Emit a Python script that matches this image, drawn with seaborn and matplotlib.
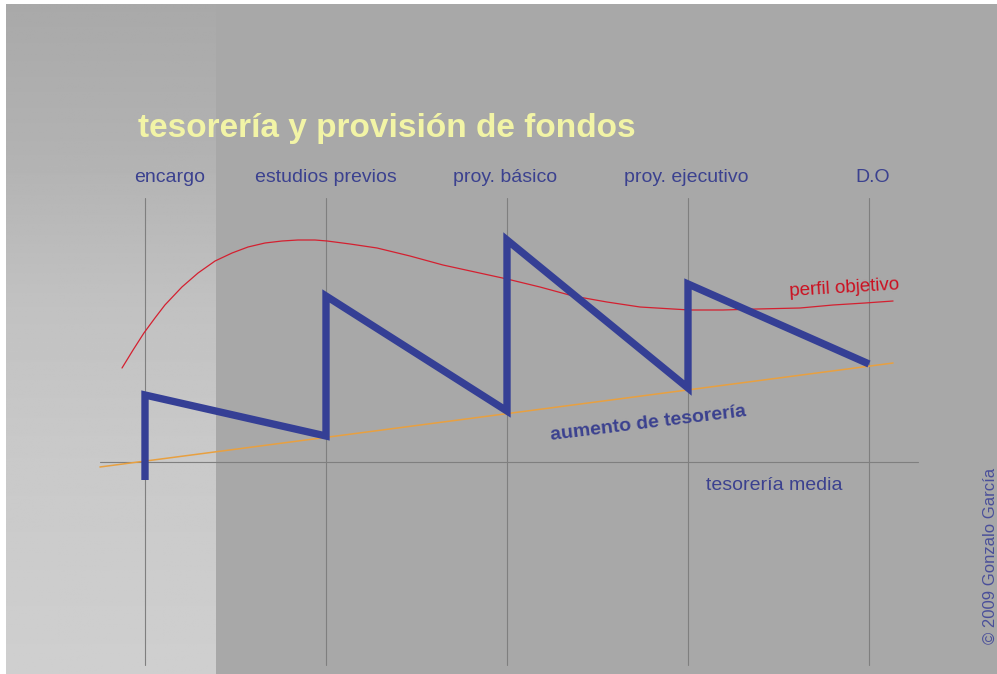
import numpy as np
import pandas as pd
import matplotlib
matplotlib.use("Agg")
import matplotlib.pyplot as plt
import seaborn as sns

# ---- data ----
stages = ["encargo", "estudios previos", "proy. básico", "proy. ejecutivo", "D.O"]
stage_pos = [0, 1, 2, 3, 4]

# treasury sawtooth (stage position, level)
saw_x = [0, 0, 1, 1, 2, 2, 3, 3, 4]
saw_y = [-18, 67, 26, 166, 51, 222, 74, 178, 98]

# target profile ("perfil objetivo")
prof_x = [-0.127, -0.066, -0.006, 0.055, 0.110, 0.204, 0.293, 0.387, 0.481, 0.569,
          0.663, 0.757, 0.845, 0.939, 1.006, 1.133, 1.282, 1.464, 1.646, 1.823,
          2.000, 2.182, 2.365, 2.552, 2.735, 2.917, 3.011, 3.193, 3.381, 3.619,
          3.801, 3.978, 4.133]
prof_y = [94, 112, 129, 144, 157, 175, 189, 201, 209, 215,
          219, 221, 222, 222, 221, 218, 214, 206, 197, 190,
          183, 175, 166, 160, 155, 153, 152, 152, 153, 154,
          157, 159, 161]

# treasury growth trend ("aumento de tesorería")
trend_x = [-0.249, 4.133]
trend_y = [-5, 99]

title = "tesorería y provisión de fondos"

# ---- figure ----
W, H = 997, 674
sns.set_theme(style="white")
plt.rcParams["font.family"] = ["Liberation Sans", "DejaVu Sans"]
fig = plt.figure(figsize=(W / 100, H / 100), dpi=100, facecolor="white")
ax = fig.add_axes([0, 0, 1, 1])
ax.set_axis_off()

X0, XS = 145, 181   # pixel of stage 0, pixels per stage
Y0 = 462            # pixel of level 0
xlim = (-X0 / XS, (W - X0) / XS)
ylim = (Y0 - H, Y0)
ax.set_xlim(*xlim)
ax.set_ylim(*ylim)

def dx(px):
    return (px - X0) / XS

def dy(py):
    return Y0 - py

# background
ax.add_patch(plt.Rectangle((dx(6), dy(674)), dx(997) - dx(6), 674 - 4,
                           color="#a8a8a8", zorder=0, lw=0))
stops_y = np.array([4, 150, 300, 450, 674])
stops_v = np.array([0xa9, 0xb2, 0xc1, 0xc9, 0xcf]) / 255
rows = np.linspace(4, 674, 300)
vals = np.interp(rows, stops_y, stops_v)
grad = np.repeat(vals[:, None], 2, axis=1)
ax.imshow(grad, cmap="gray", vmin=0, vmax=1, aspect="auto",
          extent=(dx(6), dx(215), dy(674), dy(4)), origin="upper", zorder=0.5)
ax.set_xlim(*xlim)
ax.set_ylim(*ylim)

# grid lines
for s in stage_pos:
    ax.plot([s, s], [dy(665), dy(198)], color="#7f7f7f", lw=0.8, zorder=1)
ax.plot([dx(100), dx(918)], [0, 0], color="#7f7f7f", lw=0.8, zorder=1)

# series
sns.lineplot(x=trend_x, y=trend_y, ax=ax, color="#e8a040", lw=1.1,
             estimator=None, sort=False, zorder=2)
sns.lineplot(x=prof_x, y=prof_y, ax=ax, color="#d42030", lw=0.9,
             estimator=None, sort=False, zorder=3, solid_joinstyle="round")
sns.lineplot(x=saw_x, y=saw_y, ax=ax, color="#353f95", lw=5.3,
             estimator=None, sort=False, zorder=4,
             solid_joinstyle="miter", solid_capstyle="butt")
ax.set_xlim(*xlim)
ax.set_ylim(*ylim)

blue = "#3b418f"
# title
fig.text(138 / W, 1 - 128 / H, title, color="#f2f4a6", fontsize=24,
         fontweight="bold", ha="left", va="center")
# stage labels
label_px = [170, 326, 505, 686, 873]
for lab, px in zip(stages, label_px):
    fig.text(px / W, 1 - 178 / H, lab, color=blue, fontsize=14,
             ha="center", va="center")

fig.text(844 / W, 1 - 288 / H, "perfil objetivo", color="#cc1020", fontsize=13.5,
         ha="center", va="center", rotation=3.5)
fig.text(648 / W, 1 - 424 / H, "aumento de tesorería", color=blue, fontsize=14,
         fontweight="bold", ha="center", va="center", rotation=7)
fig.text(774 / W, 1 - 485 / H, "tesorería media", color=blue, fontsize=14,
         ha="center", va="center")
fig.text(990 / W, 1 - 556 / H, "© 2009 Gonzalo García", color="#4a4f9a",
         fontsize=12, ha="center", va="center", rotation=90)

fig.savefig("out.png", dpi=100, facecolor="white")
